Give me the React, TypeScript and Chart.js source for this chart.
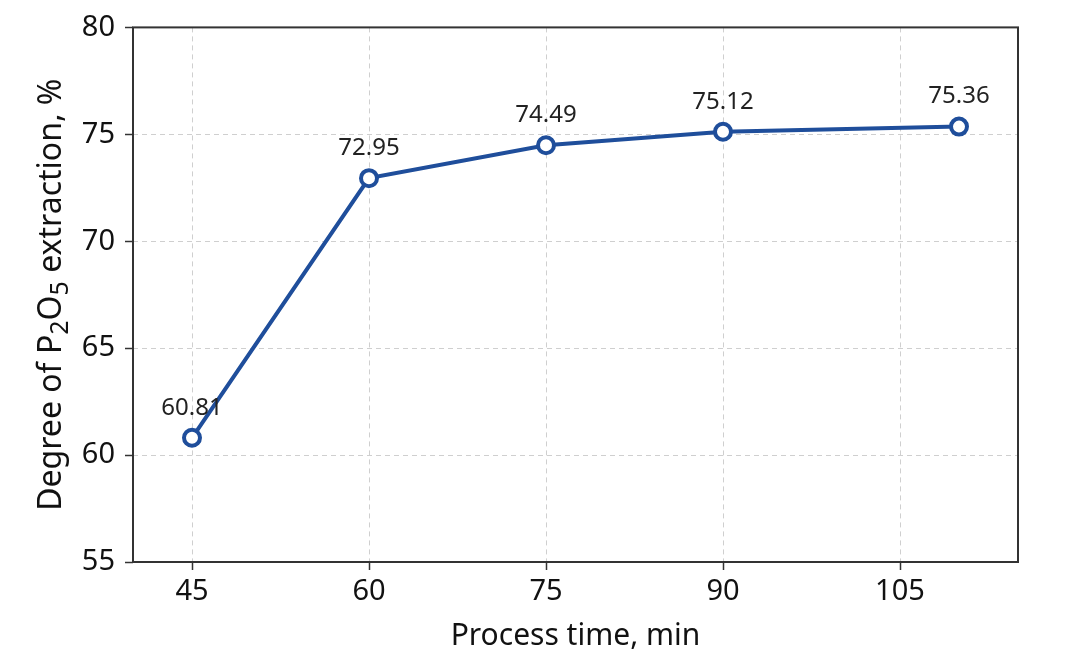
import { useEffect, useRef } from 'react';
import { Chart, registerables } from 'chart.js';

Chart.register(...registerables);

// process time (min) and P2O5 extraction degree (%)
const processTimes = [45, 60, 75, 90, 110];
const extraction = [60.81, 72.95, 74.49, 75.12, 75.36];
const xTicks = [45, 60, 75, 90, 105];
const yTicks = [55, 60, 65, 70, 75, 80];

const FONT = '"Noto Sans", "DejaVu Sans", sans-serif';
const LINE_COLOR = '#1f4e9b';
const AXIS_COLOR = '#333333';

// frame around the plot area, value labels, axis titles with subscripts
const decorPlugin = {
  id: 'decor',
  afterDatasetsDraw(chart: any) {
    const { ctx } = chart;
    const meta = chart.getDatasetMeta(0);

    ctx.save();
    ctx.fillStyle = '#222222';
    ctx.font = `24px ${FONT}`;
    ctx.textAlign = 'center';
    ctx.textBaseline = 'middle';
    meta.data.forEach((pt: any, i: number) => {
      ctx.fillText(extraction[i].toFixed(2), pt.x, pt.y - 30);
    });
    ctx.restore();
  },
  afterDraw(chart: any) {
    const { ctx, chartArea } = chart;
    ctx.save();
    ctx.setLineDash([]);
    ctx.strokeStyle = AXIS_COLOR;
    ctx.lineWidth = 2;
    ctx.strokeRect(chartArea.left, chartArea.top, chartArea.right - chartArea.left, chartArea.bottom - chartArea.top);

    // x title
    ctx.fillStyle = '#111111';
    ctx.font = `30px ${FONT}`;
    ctx.textAlign = 'center';
    ctx.textBaseline = 'middle';
    ctx.fillText('Process time, min', (chartArea.left + chartArea.right) / 2, 636);

    // y title with subscripts
    const parts: [string, boolean][] = [
      ['Degree of P', false],
      ['2', true],
      ['O', false],
      ['5', true],
      [' extraction, %', false],
    ];
    const size = 32;
    const subSize = 25;
    let total = 0;
    parts.forEach(([t, sub]) => {
      ctx.font = `${sub ? subSize : size}px ${FONT}`;
      total += ctx.measureText(t).width;
    });
    ctx.translate(50, (chartArea.top + chartArea.bottom) / 2);
    ctx.rotate(-Math.PI / 2);
    ctx.textAlign = 'left';
    ctx.textBaseline = 'alphabetic';
    let x = -total / 2;
    const base = 11;
    parts.forEach(([t, sub]) => {
      ctx.font = `${sub ? subSize : size}px ${FONT}`;
      ctx.fillText(t, x, sub ? base + 7 : base);
      x += ctx.measureText(t).width;
    });
    ctx.restore();
  },
};

export default function App() {
  const chartRef = useRef<HTMLCanvasElement>(null);
  const chartInstanceRef = useRef<Chart | null>(null);

  useEffect(() => {
    if (!chartRef.current) return;
    const ctx = chartRef.current.getContext('2d');
    if (!ctx) return;

    if (chartInstanceRef.current) {
      chartInstanceRef.current.destroy();
    }

    const gridOpts = {
      color: '#cfcfcf',
      lineWidth: 1,
      tickColor: AXIS_COLOR,
      tickLength: 8,
      tickWidth: 1.5,
      tickBorderDash: [],
    };

    chartInstanceRef.current = new Chart(ctx, {
      type: 'line',
      data: {
        datasets: [{
          label: 'Extraction',
          data: processTimes.map((t, i) => ({ x: t, y: extraction[i] })),
          borderColor: LINE_COLOR,
          borderWidth: 4,
          backgroundColor: '#ffffff',
          pointBackgroundColor: '#ffffff',
          pointBorderColor: LINE_COLOR,
          pointBorderWidth: 4,
          pointRadius: 8,
          tension: 0,
        }],
      },
      options: {
        responsive: true,
        maintainAspectRatio: false,
        animation: false,
        layout: {
          padding: { top: 27, right: 54, left: 0, bottom: 0 },
        },
        plugins: {
          legend: { display: false },
          tooltip: { enabled: false },
        },
        scales: {
          x: {
            type: 'linear',
            min: 40,
            max: 115,
            afterBuildTicks: (scale: any) => {
              scale.ticks = xTicks.map(v => ({ value: v }));
            },
            afterFit: (scale: any) => {
              scale.height = 109;
            },
            border: { display: false, dash: [5, 4] },
            grid: gridOpts,
            ticks: {
              color: '#111111',
              font: { family: FONT, size: 29 },
              padding: 4,
              autoSkip: false,
              maxRotation: 0,
            },
          },
          y: {
            min: 55,
            max: 80,
            afterBuildTicks: (scale: any) => {
              scale.ticks = yTicks.map(v => ({ value: v }));
            },
            afterFit: (scale: any) => {
              scale.width = 133;
            },
            border: { display: false, dash: [5, 4] },
            grid: gridOpts,
            ticks: {
              color: '#111111',
              font: { family: FONT, size: 29 },
              padding: 10,
            },
          },
        },
      },
      plugins: [decorPlugin],
    } as any);

    return () => {
      if (chartInstanceRef.current) {
        chartInstanceRef.current.destroy();
        chartInstanceRef.current = null;
      }
    };
  }, []);

  return (
    <div style={{ position: 'fixed', left: 0, top: 0, width: 1072, height: 671, background: '#ffffff' }}>
      <canvas ref={chartRef}></canvas>
    </div>
  );
}
